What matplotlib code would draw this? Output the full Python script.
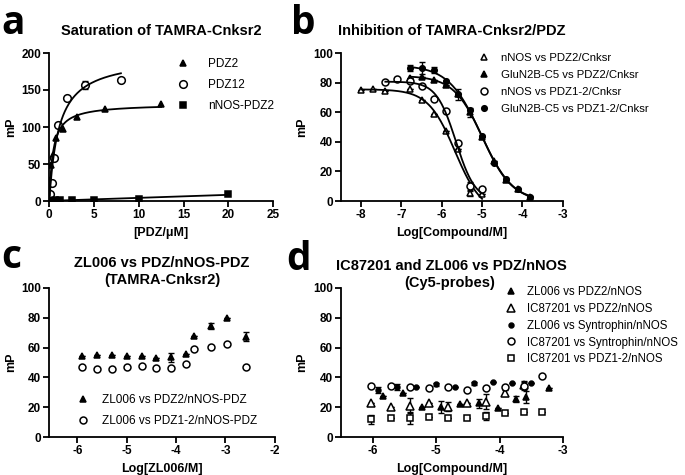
import numpy as np
import matplotlib
matplotlib.use("Agg")
import matplotlib.pyplot as plt

plt.rcParams['font.family'] = ['Liberation Sans', 'DejaVu Sans']
plt.rcParams['font.weight'] = 'bold'
plt.rcParams['axes.unicode_minus'] = False

# ---- panel a: saturation ----
a_pdz2_x = [0.05, 0.1, 0.2, 0.39, 0.78, 1.56, 3.125, 6.25, 12.5]
a_pdz2_y = [12, 28, 48, 62, 85, 97, 114, 125, 131]
a_pdz12_x = [0, 0.0625, 0.125, 0.25, 0.5, 1, 2, 4, 8]
a_pdz12_y = [0, 3, 10, 25, 58, 103, 139, 157, 163]
a_pdz12_err = [0, 0, 0, 0, 0, 0, 0, 5, 0]
a_nnos_x = [0, 0.3, 0.6, 1.25, 2.5, 5, 10, 20]
a_nnos_y = [0, 0.5, 1, 1, 1, 2, 3, 9]

# ---- panel b: inhibition ----
b_nnos_pdz2_x = [-8.0, -7.7, -7.4, -6.8, -6.5, -6.2, -5.9, -5.6, -5.3, -5.0]
b_nnos_pdz2_y = [75, 75.5, 74, 76, 68, 58.6, 47, 35, 5.2, 4.5]
b_nnos_pdz2_err = [0, 0, 0, 0, 0, 0, 0, 0, 2, 0]
b_glu_pdz2_x = [-6.8, -6.5, -6.2, -5.9, -5.6, -5.3, -5.0, -4.7, -4.4, -4.1, -3.8]
b_glu_pdz2_y = [83, 84, 82, 78.4, 72, 60, 43, 27, 14.5, 8, 2.5]
b_glu_pdz2_err = [0, 0, 0, 0, 4, 3, 0, 0, 0, 0, 0]
b_nnos_pdz12_x = [-7.4, -7.1, -6.8, -6.5, -6.2, -5.9, -5.6, -5.3, -5.0]
b_nnos_pdz12_y = [80.6, 82.4, 81.2, 77.7, 68.9, 60.8, 39, 10, 8]
b_nnos_pdz12_err = [0, 0, 0, 0, 0, 0, 0, 3, 0]
b_glu_pdz12_x = [-6.8, -6.5, -6.2, -5.9, -5.6, -5.3, -5.0, -4.7, -4.4, -4.1, -3.8]
b_glu_pdz12_y = [89.6, 90, 88.5, 81.3, 72, 61.5, 44, 25.5, 15, 8, 2.5]
b_glu_pdz12_err = [2, 4, 2, 0, 0, 0, 0, 0, 0, 0, 0]

# ---- panel c: ZL006 vs PDZ/nNOS-PDZ ----
c_x = [-5.9, -5.6, -5.3, -5.0, -4.7, -4.4, -4.1, -3.8, -3.63, -3.3, -2.96, -2.59]
c_pdz2_y = [54.4, 54.8, 54.8, 54.6, 54.6, 52.8, 53.5, 55.5, 68, 74.7, 80, 67.3]
c_pdz2_err = [0, 0, 0, 0, 0, 0, 3, 0, 0, 2, 0, 3]
c_pdz12_y = [46.8, 45.8, 45.8, 47.2, 47.7, 46.3, 46.5, 48.8, 59, 60.2, 62.2, 47.2]

# ---- panel d: IC87201 and ZL006 vs PDZ/nNOS ----
d_zl_pdz2_x = [-5.83, -5.53, -5.23, -4.93, -4.62, -4.32, -4.03, -3.74, -3.58, -3.22]
d_zl_pdz2_y = [27.5, 29.7, 20.3, 20.3, 22, 22.6, 19.2, 25.3, 27, 33]
d_zl_pdz2_err = [0, 0, 0, 4, 0, 3, 0, 2, 4, 0]
d_ic_pdz2_x = [-6.02, -5.71, -5.41, -5.12, -4.81, -4.52, -4.22, -3.92, -3.62]
d_ic_pdz2_y = [22.6, 20.3, 20.9, 22.6, 20.3, 22.6, 23.7, 29.7, 35]
d_ic_pdz2_err = [0, 0, 5, 0, 3, 0, 5, 2, 2]
d_zl_syn_x = [-5.91, -5.61, -5.31, -5.0, -4.70, -4.40, -4.11, -3.81, -3.51]
d_zl_syn_y = [31.5, 33.8, 33.8, 35.4, 33.8, 36, 37.1, 36.4, 36]
d_zl_syn_err = [2, 2, 0, 1, 0, 1, 0, 0, 0]
d_ic_x = [-6.02, -5.71, -5.41, -5.12, -4.81, -4.52, -4.22, -3.92, -3.62, -3.33]
d_ic_syn_y = [34.5, 34.5, 33.8, 32.7, 33.8, 31.5, 32.7, 33.8, 34.3, 41]
d_ic_syn_err = [0, 0, 0, 0, 0, 0, 0, 0, 3, 0]
d_ic_pdz12_y = [11.9, 12.5, 12.5, 13.2, 13, 13, 14.1, 15.9, 17, 17]
d_ic_pdz12_err = [3, 0, 4, 0, 0, 0, 3, 0, 0, 0]


def fit_hyperbola(x, y):
    x = np.array(x, float)
    y = np.array(y, float)
    best = None
    for kd in np.linspace(0.01, 10, 2000):
        f = x / (kd + x)
        bmax = np.sum(f * y) / np.sum(f * f)
        res = np.sum((y - bmax * f) ** 2)
        if best is None or res < best[0]:
            best = (res, kd, bmax)
    return best[1], best[2]


def fit_logistic(x, y):
    # 4-parameter dose response, grid over logIC50 and slope
    x = np.array(x, float)
    y = np.array(y, float)
    cs = np.arange(-8, -3, 0.01)[:, None, None]
    hs = np.arange(0.3, 4, 0.02)[None, :, None]
    s = 1.0 / (1.0 + 10 ** ((x[None, None, :] - cs) * hs))
    a = 1 - s
    aa = np.sum(a * a, axis=2)
    ab = np.sum(a * s, axis=2)
    bb = np.sum(s * s, axis=2)
    ay = np.sum(a * y, axis=2)
    by = np.sum(s * y, axis=2)
    det = aa * bb - ab * ab
    bottom = (bb * ay - ab * by) / det
    top = (aa * by - ab * ay) / det
    pred = bottom[:, :, None] * a + top[:, :, None] * s
    res = np.sum((pred - y) ** 2, axis=2)
    i, j = np.unravel_index(np.argmin(res), res.shape)
    return cs[i, 0, 0], hs[0, j, 0], bottom[i, j], top[i, j]


def logistic_curve(x, c, h, bottom, top):
    return bottom + (top - bottom) / (1 + 10 ** ((x - c) * h))


def style_axes(ax):
    for side in ['top', 'right']:
        ax.spines[side].set_visible(False)
    for side in ['left', 'bottom']:
        ax.spines[side].set_linewidth(1.3)
    ax.tick_params(direction='out', length=4, width=1.3, labelsize=8.5, pad=2)
    for t in ax.get_xticklabels() + ax.get_yticklabels():
        t.set_fontweight('bold')


def points(ax, x, y, err, marker, fc, ms, label):
    if err is not None:
        ax.errorbar(x, y, yerr=err, fmt='none', ecolor='k', elinewidth=1,
                    capsize=2, capthick=1)
    ax.plot(x, y, marker, mfc=fc, mec='k', mew=1.1, ms=ms, linestyle='none', label=label)


def legend(ax, x, y, spacing, size=8.5, pad=1.0):
    ax.legend(loc='upper left', bbox_to_anchor=(x / W, 1 - y / H), bbox_transform=fig.transFigure,
              frameon=False, prop={'weight': 'normal', 'size': size}, handletextpad=pad,
              labelspacing=spacing, handlelength=1.0, borderpad=0, borderaxespad=0)


fig = plt.figure(figsize=(6.85, 4.75), dpi=100)
W, H = 685.0, 475.0


def add_ax(x0, x1, ytop, ybot):
    return fig.add_axes([x0 / W, 1 - ybot / H, (x1 - x0) / W, (ybot - ytop) / H])


def title(x, y, s):
    fig.text(x / W, 1 - y / H, s, ha='center', va='center', fontsize=10.5, fontweight='bold')


label_size = 9

# ---------------- a ----------------
ax = add_ax(49.3, 273, 53, 201)
points(ax, a_pdz2_x, a_pdz2_y, None, '^', 'k', 4, 'PDZ2')
points(ax, a_pdz12_x, a_pdz12_y, a_pdz12_err, 'o', 'white', 5.5, 'PDZ12')
points(ax, a_nnos_x, a_nnos_y, None, 's', 'k', 4, 'nNOS-PDZ2')
kd, bmax = fit_hyperbola(a_pdz2_x, a_pdz2_y)
xx = np.linspace(0, max(a_pdz2_x), 300)
ax.plot(xx, bmax * xx / (kd + xx), 'k-', lw=1.3)
kd, bmax = fit_hyperbola(a_pdz12_x, a_pdz12_y)
xx = np.linspace(0, max(a_pdz12_x), 300)
ax.plot(xx, bmax * xx / (kd + xx), 'k-', lw=1.3)
p = np.polyfit(a_nnos_x, a_nnos_y, 1)
xx = np.linspace(0, max(a_nnos_x), 50)
ax.plot(xx, np.polyval(p, xx), 'k-', lw=1.3)
ax.set_xlim(0, 25)
ax.set_ylim(0, 200)
ax.set_xticks([0, 5, 10, 15, 20, 25])
ax.set_yticks([0, 50, 100, 150, 200])
ax.set_xlabel('[PDZ/\u03bcM]', fontsize=label_size, fontweight='bold', labelpad=4)
ax.set_ylabel('mP', fontsize=label_size, fontweight='bold', labelpad=3)
style_axes(ax)
legend(ax, 177, 58, 0.75, pad=1.6)
title(161, 31, 'Saturation of TAMRA-Cnksr2')

# ---------------- b ----------------
ax = add_ax(341, 562.7, 53, 201)
series_b = [
    (b_nnos_pdz2_x, b_nnos_pdz2_y, b_nnos_pdz2_err, '^', 'white', 4.5, 'nNOS vs PDZ2/Cnksr'),
    (b_glu_pdz2_x, b_glu_pdz2_y, b_glu_pdz2_err, '^', 'k', 4, 'GluN2B-C5 vs PDZ2/Cnksr'),
    (b_nnos_pdz12_x, b_nnos_pdz12_y, b_nnos_pdz12_err, 'o', 'white', 5, 'nNOS vs PDZ1-2/Cnksr'),
    (b_glu_pdz12_x, b_glu_pdz12_y, b_glu_pdz12_err, 'o', 'k', 4, 'GluN2B-C5 vs PDZ1-2/Cnksr'),
]
for x, y, e, m, fc, ms, lab in series_b:
    points(ax, x, y, e, m, fc, ms, lab)
    c, h, bot, top = fit_logistic(x, y)
    xx = np.linspace(min(x), max(x), 300)
    ax.plot(xx, logistic_curve(xx, c, h, bot, top), 'k-', lw=1.3)
ax.set_xlim(-8.5, -3)
ax.set_ylim(0, 100)
ax.set_xticks([-8, -7, -6, -5, -4, -3])
ax.set_yticks([0, 20, 40, 60, 80, 100])
ax.set_xlabel('Log[Compound/M]', fontsize=label_size, fontweight='bold', labelpad=4)
ax.set_ylabel('mP', fontsize=label_size, fontweight='bold', labelpad=3)
style_axes(ax)
legend(ax, 478, 53, 0.6, size=8.2, pad=1.0)
title(452, 31, 'Inhibition of TAMRA-Cnksr2/PDZ')

# ---------------- c ----------------
ax = add_ax(49.3, 274.7, 288, 437)
points(ax, c_x, c_pdz2_y, c_pdz2_err, '^', 'k', 4, 'ZL006 vs PDZ2/nNOS-PDZ')
points(ax, c_x, c_pdz12_y, None, 'o', 'white', 5, 'ZL006 vs PDZ1-2/nNOS-PDZ')
ax.set_xlim(-6.57, -2)
ax.set_ylim(0, 100)
ax.set_xticks([-6, -5, -4, -3, -2])
ax.set_yticks([0, 20, 40, 60, 80, 100])
ax.set_xlabel('Log[ZL006/M]', fontsize=label_size, fontweight='bold', labelpad=4)
ax.set_ylabel('mP', fontsize=label_size, fontweight='bold', labelpad=3)
style_axes(ax)
legend(ax, 77, 394, 0.75, pad=1.1)
title(162, 263, 'ZL006 vs PDZ/nNOS-PDZ')
title(162, 280, '(TAMRA-Cnksr2)')

# ---------------- d ----------------
ax = add_ax(341, 563, 288, 437)
points(ax, d_zl_pdz2_x, d_zl_pdz2_y, d_zl_pdz2_err, '^', 'k', 4.5, 'ZL006 vs PDZ2/nNOS')
points(ax, d_ic_pdz2_x, d_ic_pdz2_y, d_ic_pdz2_err, '^', 'white', 5.5, 'IC87201 vs PDZ2/nNOS')
points(ax, d_zl_syn_x, d_zl_syn_y, d_zl_syn_err, 'o', 'k', 3.5, 'ZL006 vs Syntrophin/nNOS')
points(ax, d_ic_x, d_ic_syn_y, d_ic_syn_err, 'o', 'white', 5, 'IC87201 vs Syntrophin/nNOS')
points(ax, d_ic_x, d_ic_pdz12_y, d_ic_pdz12_err, 's', 'white', 4.5, 'IC87201 vs PDZ1-2/nNOS')
ax.set_xlim(-6.5, -3)
ax.set_ylim(0, 100)
ax.set_xticks([-6, -5, -4, -3])
ax.set_yticks([0, 20, 40, 60, 80, 100])
ax.set_xlabel('Log[Compound/M]', fontsize=label_size, fontweight='bold', labelpad=4)
ax.set_ylabel('mP', fontsize=label_size, fontweight='bold', labelpad=3)
style_axes(ax)
legend(ax, 505, 286, 0.42, size=8.3, pad=0.9)
title(451, 266, 'IC87201 and ZL006 vs PDZ/nNOS')
title(450, 283, '(Cy5-probes)')

# panel letters
for lx, ly, letter in [(1, 34, 'a'), (291, 34, 'b'), (1, 268, 'c'), (286, 270, 'd')]:
    fig.text(lx / W, 1 - ly / H, letter, ha='left', va='baseline', fontsize=28,
             fontweight='bold', family='Open Sans')

fig.savefig('out.png', dpi=100)
